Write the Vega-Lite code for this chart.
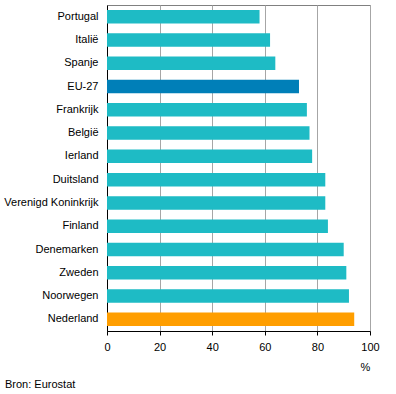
{
  "$schema": "https://vega.github.io/schema/vega-lite/v6.json",
  "autosize": "none",
  "width": 263,
  "height": 326,
  "padding": {"left": 107, "top": 5, "right": 26, "bottom": 63},
  "background": "white",
  "config": {
    "font": "Liberation Sans",
    "view": {"stroke": "#808080", "strokeWidth": 1}
  },
  "title": {
    "text": "Bron: Eurostat",
    "orient": "bottom",
    "anchor": "start",
    "frame": "group",
    "dx": -102,
    "offset": 7,
    "fontSize": 11,
    "fontWeight": "normal",
    "color": "#000000",
    "font": "Liberation Sans"
  },
  "data": {
    "values": [
      {"land": "Portugal", "waarde": 58, "groep": "land"},
      {"land": "Italië", "waarde": 62, "groep": "land"},
      {"land": "Spanje", "waarde": 64, "groep": "land"},
      {"land": "EU-27", "waarde": 73, "groep": "eu"},
      {"land": "Frankrijk", "waarde": 76, "groep": "land"},
      {"land": "België", "waarde": 77, "groep": "land"},
      {"land": "Ierland", "waarde": 78, "groep": "land"},
      {"land": "Duitsland", "waarde": 83, "groep": "land"},
      {"land": "Verenigd Koninkrijk", "waarde": 83, "groep": "land"},
      {"land": "Finland", "waarde": 84, "groep": "land"},
      {"land": "Denemarken", "waarde": 90, "groep": "land"},
      {"land": "Zweden", "waarde": 91, "groep": "land"},
      {"land": "Noorwegen", "waarde": 92, "groep": "land"},
      {"land": "Nederland", "waarde": 94, "groep": "nl"}
    ]
  },
  "mark": {"type": "bar"},
  "encoding": {
    "y": {
      "field": "land",
      "type": "nominal",
      "sort": null,
      "scale": {"paddingInner": 0.42, "paddingOuter": 0.21},
      "axis": {
        "title": null,
        "ticks": false,
        "labelPadding": 9,
        "labelFontSize": 11,
        "labelColor": "#000000",
        "domainColor": "#000000",
        "grid": false,
        "labelLimit": 200
      }
    },
    "x": {
      "field": "waarde",
      "type": "quantitative",
      "scale": {"domain": [0, 100], "nice": false},
      "axis": {
        "values": [0, 20, 40, 60, 80, 100],
        "title": "%",
        "titleFontSize": 11,
        "titleFontWeight": "normal",
        "titleColor": "#000000",
        "titleAnchor": "end",
        "titleAlign": "center",
        "titleX": 258,
        "titleY": 30,
        "labelFontSize": 11,
        "labelColor": "#000000",
        "labelPadding": 6,
        "tickSize": 4,
        "tickColor": "#000000",
        "domainColor": "#000000",
        "grid": true,
        "gridColor": "#A6A6A6",
        "labelFlush": false
      }
    },
    "color": {
      "field": "groep",
      "type": "nominal",
      "scale": {"domain": ["land", "eu", "nl"], "range": ["#1EBBC5", "#007FB8", "#FF9E00"]},
      "legend": null
    }
  }
}
